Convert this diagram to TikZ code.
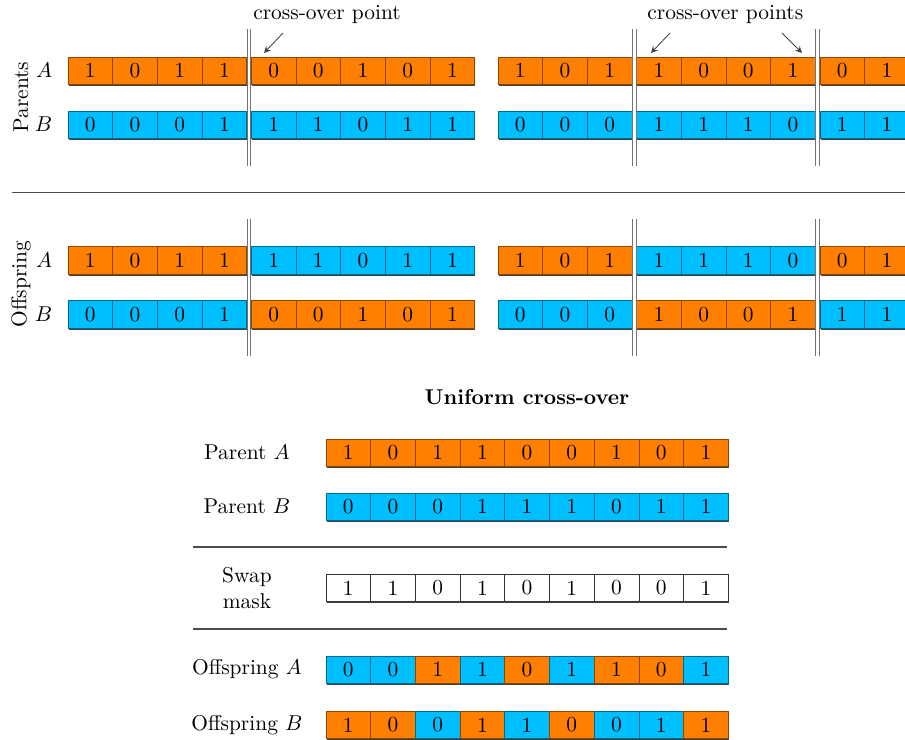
\documentclass[tikz,border=0pt]{standalone}
\usepackage{amsmath}
\usepackage{xcolor}
\usepackage{tikz}
\usetikzlibrary{arrows.meta, positioning, calc, shadows}

\definecolor{geneA}{RGB}{255,128,0}
\definecolor{geneB}{RGB}{0,191,255}

\tikzstyle{bit} = [line width=0.3pt, minimum width=0.733cm, minimum height=0.448cm, inner sep=0pt, drop shadow={shadow xshift=0.3pt, shadow yshift=-0.8pt, fill=black!75, opacity=1}]
\tikzstyle{bitA} = [bit, fill=geneA, draw=geneA!55!black]
\tikzstyle{bitB} = [bit, fill=geneB, draw=geneB!55!black]
\tikzstyle{bitM} = [bit, fill=white, draw=black!80]
\tikzstyle{cut} = [draw=black!55, line width=0.5pt, double=white, double distance=1.2pt]
\tikzstyle{arrow} = [->, >=stealth, black!75, line width=0.4pt]
\tikzstyle{rule} = [black!70, line width=0.6pt]

\begin{document}
\begin{tikzpicture}
    \clip (0,0) rectangle (14.842,-12.136);

    % one-point cross-over (left) and two-point cross-over (right)
    \foreach \nm/\y/\bits in {lpa/-1.158/{1/A,0/A,1/A,1/A,0/A,0/A,1/A,0/A,1/A},
                              lpb/-2.042/{0/B,0/B,0/B,1/B,1/B,1/B,0/B,1/B,1/B},
                              loa/-4.271/{1/A,0/A,1/A,1/A,1/B,1/B,0/B,1/B,1/B},
                              lob/-5.156/{0/B,0/B,0/B,1/B,0/A,0/A,1/A,0/A,1/A}}
        \foreach \b/\c [count=\i] in \bits
            \node[bit\c] (\nm\i) at ({1.115+(\i-0.5)*0.733+(\i>4)*0.074}, \y) {\b};
    \foreach \nm/\y/\bits in {rpa/-1.158/{1/A,0/A,1/A,1/A,0/A,0/A,1/A,0/A,1/A},
                              rpb/-2.042/{0/B,0/B,0/B,1/B,1/B,1/B,0/B,1/B,1/B},
                              roa/-4.271/{1/A,0/A,1/A,1/B,1/B,1/B,0/B,0/A,1/A},
                              rob/-5.156/{0/B,0/B,0/B,1/A,0/A,0/A,1/A,1/B,1/B}}
        \foreach \b/\c [count=\i] in \bits
            \node[bit\c] (\nm\i) at ({8.167+(\i-0.5)*0.733+((\i>3)+(\i>7))*0.074}, \y) {\b};

    % cut positions
    \foreach \ra/\rb/\k/\n in {lpa/lpb/4/5, loa/lob/4/5, rpa/rpb/3/4, rpa/rpb/7/8, roa/rob/3/4, roa/rob/7/8}
        \draw[cut] ($(\ra\k.north east)!.5!(\ra\n.north west)+(0,0.448)$) -- ($(\rb\k.south east)!.5!(\rb\n.south west)-(0,0.448)$);

    \node (onecut) at (5.363,-0.246) {cross-over point};
    \node (twocut) at (11.895,-0.246) {cross-over points};
    \coordinate (c1from) at (4.641,-0.541);
    \coordinate (c1to) at (4.330,-0.869);
    \coordinate (c2from) at (10.988,-0.541);
    \coordinate (c2to) at (10.676,-0.869);
    \coordinate (c3from) at (12.825,-0.541);
    \coordinate (c3to) at (13.153,-0.869);
    \draw[arrow] (c1from) -- (c1to);
    \draw[arrow] (c2from) -- (c2to);
    \draw[arrow] (c3from) -- (c3to);

    \node[left=0.13cm of lpa1] (lpalab) {$A$};
    \node[left=0.13cm of lpb1] (lpblab) {$B$};
    \node[left=0.13cm of loa1] (loalab) {$A$};
    \node[left=0.13cm of lob1] (loblab) {$B$};
    \node[rotate=90] (parents) at (0.344,-1.59) {Parents};
    \node[rotate=90] (offspring) at (0.344,-4.66) {Offspring};

    \coordinate (sepL) at (0.197,-3.154);
    \coordinate (sepR) at (14.842,-3.154);
    \draw[rule] (sepL) -- (sepR);

    % uniform cross-over
    \node (uniform) at (8.643,-6.511) {\bfseries Uniform cross-over};
    \foreach \nm/\y/\bits in {upa/-7.421/{1/A,0/A,1/A,1/A,0/A,0/A,1/A,0/A,1/A},
                              upb/-8.307/{0/B,0/B,0/B,1/B,1/B,1/B,0/B,1/B,1/B},
                              umask/-9.643/{1/M,1/M,0/M,1/M,0/M,1/M,0/M,0/M,1/M},
                              uoa/-10.980/{0/B,0/B,1/A,1/B,0/A,1/B,1/A,0/A,1/B},
                              uob/-11.890/{1/A,0/A,0/B,1/A,1/B,0/A,0/B,1/B,1/A}}
        \foreach \b/\c [count=\i] in \bits
            \node[bit\c] (\nm\i) at ({5.346+(\i-0.5)*0.733}, \y) {\b};

    \node (upalab) at (4.05,-7.421) {Parent $A$};
    \node (upblab) at (4.05,-8.307) {Parent $B$};
    \node[align=center] (umasklab) at (4.05,-9.643) {Swap\\mask};
    \node (uoalab) at (4.05,-10.980) {Offspring $A$};
    \node (uoblab) at (4.05,-11.890) {Offspring $B$};

    \coordinate (rule1L) at (3.165,-8.971);
    \coordinate (rule1R) at (11.923,-8.971);
    \coordinate (rule2L) at (3.165,-10.316);
    \coordinate (rule2R) at (11.923,-10.316);
    \draw[rule] (rule1L) -- (rule1R);
    \draw[rule] (rule2L) -- (rule2R);
\end{tikzpicture}
\end{document}
